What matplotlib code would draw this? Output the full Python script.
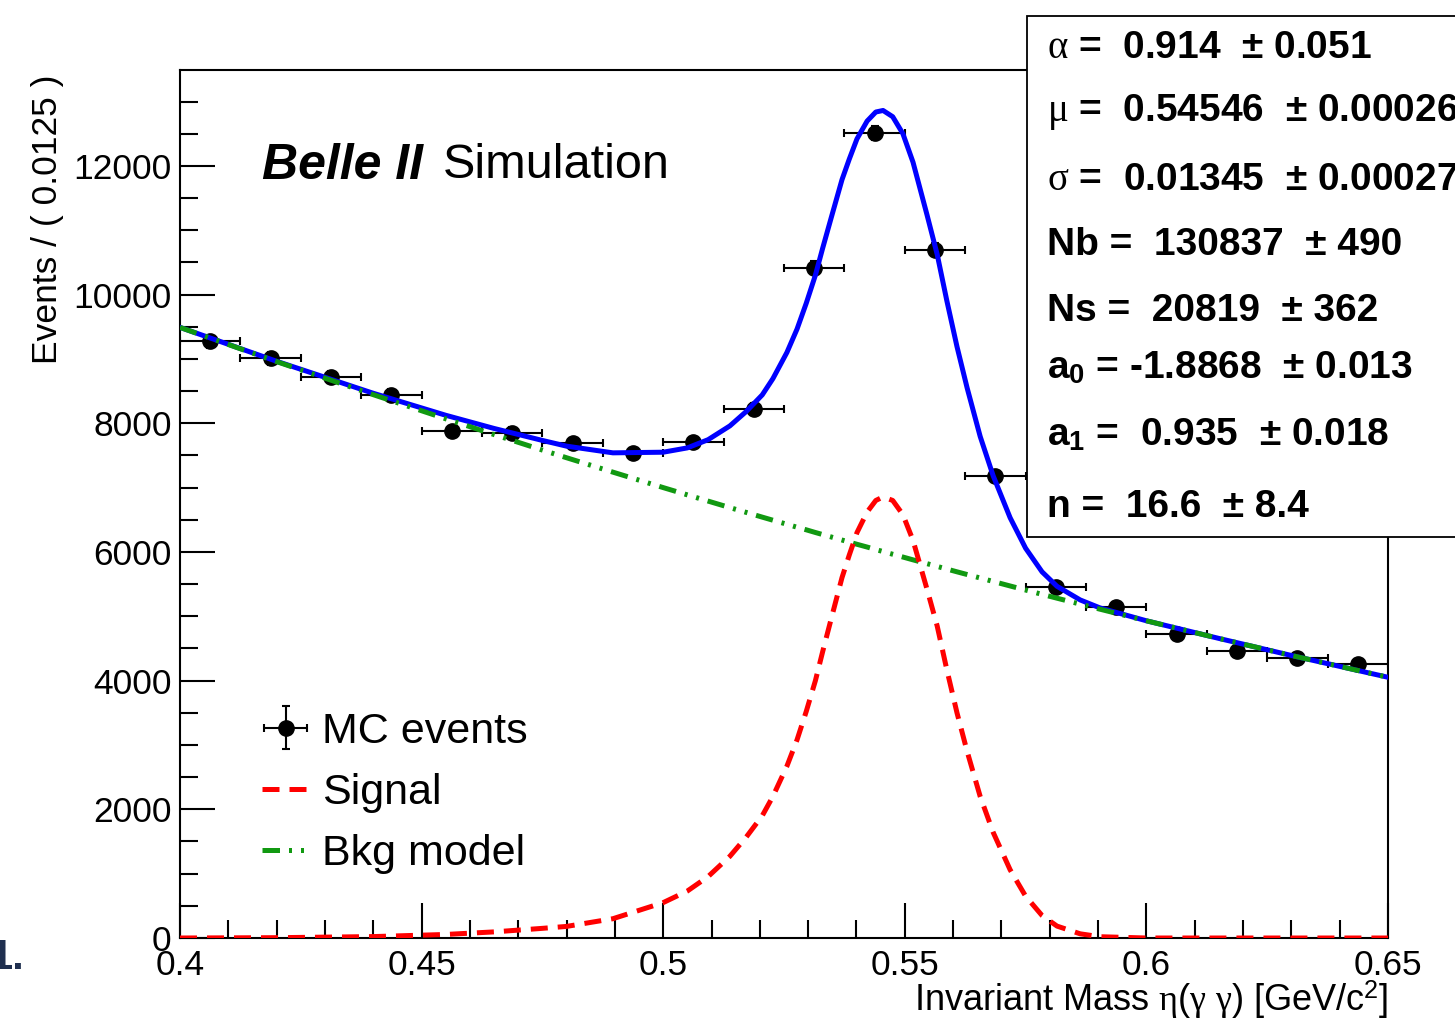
import numpy as np
import matplotlib
matplotlib.use("Agg")
import matplotlib.pyplot as plt
from matplotlib.patches import Rectangle
from matplotlib.lines import Line2D
from matplotlib.ticker import MultipleLocator, FixedLocator, FixedFormatter

# binned MC sample, 0.0125 wide bins
bin_centers = [0.40625, 0.41875, 0.43125, 0.44375, 0.45625, 0.46875, 0.48125,
               0.49375, 0.50625, 0.51875, 0.53125, 0.54375, 0.55625, 0.56875,
               0.58125, 0.59375, 0.60625, 0.61875, 0.63125, 0.64375]
bin_width = 0.0125
events = [9271, 9008, 8713, 8434, 7876, 7845, 7690, 7535, 7705, 8217,
          10419, 12512, 10698, 7178, 5457, 5147, 4729, 4465, 4357, 4264]
event_errors = [96, 95, 93, 92, 89, 89, 88, 87, 88, 91,
                102, 112, 103, 85, 74, 72, 69, 67, 66, 65]

# fitted model components
mass_grid = [0.400, 0.420, 0.440, 0.455, 0.465, 0.475, 0.480, 0.4896, 0.500,
             0.505, 0.5093, 0.5138, 0.5172, 0.5205, 0.5227, 0.5256, 0.5277,
             0.5296, 0.5315, 0.5330, 0.5348, 0.5370, 0.5385, 0.5401, 0.5422,
             0.5440, 0.5455, 0.5475, 0.5496, 0.5517, 0.5546, 0.5567, 0.5587,
             0.5608, 0.5629, 0.5656, 0.5683, 0.5718, 0.5750, 0.5784, 0.5815,
             0.5863, 0.5904, 0.600, 0.615, 0.630, 0.650]
signal_curve = [0, 5, 22, 55, 95, 150, 180, 300, 550,
                730, 955, 1270, 1570, 1900, 2200, 2670, 3080,
                3520, 4000, 4450, 4970, 5600, 5950, 6300, 6620,
                6800, 6855, 6800, 6580, 6180, 5420, 4850, 4170,
                3500, 2900, 2200, 1640, 1060, 650, 350, 185,
                65, 20, 0, 0, 0, 0]
bkg_curve = [9490, 8958, 8444, 8069, 7824, 7583, 7464, 7240, 7000,
             6887, 6790, 6689, 6614, 6541, 6493, 6430, 6384,
             6344, 6302, 6270, 6232, 6185, 6153, 6119, 6076,
             6037, 6006, 5964, 5921, 5877, 5818, 5775, 5734,
             5691, 5649, 5595, 5541, 5471, 5408, 5341, 5281,
             5189, 5110, 4930, 4656, 4391, 4052]

x_ticks = [0.40, 0.45, 0.50, 0.55, 0.60, 0.65]
x_tick_labels = ["0.4", "0.45", "0.5", "0.55", "0.6", "0.65"]

fit_names = [r"$\alpha$", r"$\mu$", r"$\sigma$", "Nb", "Ns",
             r"a$_\mathbf{0}$", r"a$_\mathbf{1}$", "n"]
fit_values = ["0.914", "0.54546", "0.01345", "130837", "20819",
              "-1.8868", "0.935", "16.6"]
fit_errors = ["0.051", "0.00026", "0.00027", "490", "362",
              "0.013", "0.018", "8.4"]

plt.rcParams["font.family"] = ["Liberation Sans", "DejaVu Sans"]
plt.rcParams["mathtext.fontset"] = "custom"
plt.rcParams["mathtext.rm"] = "Liberation Sans"
plt.rcParams["mathtext.it"] = "Liberation Serif"
plt.rcParams["mathtext.bf"] = "Liberation Sans:bold"

W, H = 1455, 1018
fig = plt.figure(figsize=(W / 100, H / 100), dpi=100)
ax = fig.add_axes([180 / W, 1 - 938 / H, 1208 / W, 868 / H])

ax.errorbar(bin_centers, events, xerr=bin_width / 2, yerr=event_errors,
            fmt="o", color="black", ms=11, elinewidth=1.5, capsize=3,
            capthick=1.5, zorder=2, label="MC events")

total = np.array(signal_curve) + np.array(bkg_curve)
ax.plot(mass_grid, total, color="#0000ff", lw=3.6, zorder=3)
ax.plot(mass_grid, bkg_curve, color="#119911", lw=3.6,
        dashes=(3.5, 1.8, 0.6, 1.8, 0.6, 1.8), zorder=4)
ax.plot(mass_grid, signal_curve, color="#ff0000", lw=3.6,
        dashes=(3.4, 2.0), zorder=5)

ax.set_xlim(0.4, 0.65)
ax.set_ylim(0, 13490)
ax.xaxis.set_major_locator(FixedLocator(x_ticks))
ax.xaxis.set_major_formatter(FixedFormatter(x_tick_labels))
ax.xaxis.set_minor_locator(MultipleLocator(0.01))
ax.yaxis.set_major_locator(MultipleLocator(2000))
ax.yaxis.set_minor_locator(MultipleLocator(500))
ax.tick_params(which="both", direction="in", top=False, right=False,
               labelsize=25.5, width=1.5)
ax.tick_params(which="major", length=25)
ax.tick_params(which="minor", length=13)
ax.tick_params(axis="x", pad=8)
ax.tick_params(axis="y", pad=6)
for sp in ax.spines.values():
    sp.set_linewidth(1.5)

# legend
handles = [ax.containers[0],
           Line2D([], [], color="#ff0000", lw=3.6, dashes=(3.4, 2.0)),
           Line2D([], [], color="#119911", lw=3.6, dashes=(3.5, 1.8, 0.6, 1.8, 0.6, 1.8))]
ax.legend(handles, ["MC events", "Signal", "Bkg model"], loc="upper left",
          bbox_to_anchor=(262 / W, 1 - 712 / H), bbox_transform=fig.transFigure,
          frameon=False, prop={"family": "Liberation Sans", "size": 31},
          handlelength=1.1, handletextpad=0.3, labelspacing=0.49,
          borderpad=0, borderaxespad=0)

# labels
fig.text(48 / W, 1 - 74 / H, "Events / ( 0.0125 )", rotation=90,
         ha="center", va="top", fontsize=25.5)
fig.text(1388 / W, 1 - 1000 / H, r"Invariant Mass $\eta(\gamma\ \gamma)$ [GeV/c$^{2}$]",
         ha="right", va="center", fontsize=26)
fig.text(262 / W, 1 - 166 / H, "Belle II", fontsize=36, fontweight="bold",
         fontstyle="italic", family="Liberation Sans", va="center")
fig.text(443 / W, 1 - 166 / H, "Simulation", fontsize=35,
         family="Liberation Sans", va="center")
fig.text(24 / W, 1 - 958 / H, "1.", ha="right", va="center", fontsize=30,
         fontweight="bold", family="Liberation Sans", color="#1f2f4f")

# fit result box
box = Rectangle((1027 / W, 1 - 537 / H), (W - 1027 + 20) / W, (537 - 16) / H,
                transform=fig.transFigure, facecolor="white", edgecolor="black",
                lw=1.3, zorder=10, clip_on=False)
fig.add_artist(box)
row_y = [48, 112, 180, 245, 311, 368, 435, 507]
for name, val, err, yy in zip(fit_names, fit_values, fit_errors, row_y):
    sign = "" if val.startswith("-") else " "
    fig.text(1047 / W, 1 - yy / H, f"{name} = {sign}{val}  \u00b1 {err}",
             fontsize=28, fontweight="bold", family="Liberation Sans",
             va="center", zorder=11)

fig.savefig("out.png", dpi=100)
